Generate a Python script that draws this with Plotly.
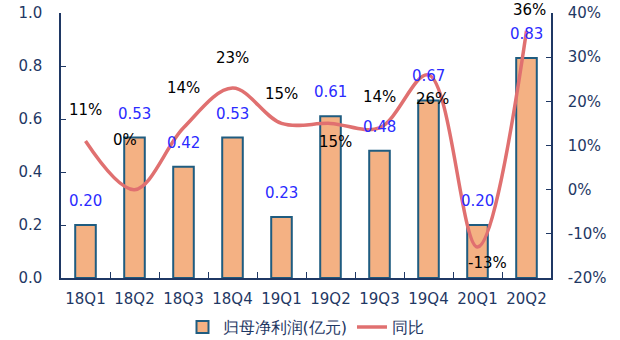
import plotly.graph_objects as go

categories = ["18Q1", "18Q2", "18Q3", "18Q4", "19Q1", "19Q2", "19Q3", "19Q4", "20Q1", "20Q2"]
profit = [0.20, 0.53, 0.42, 0.53, 0.23, 0.61, 0.48, 0.67, 0.20, 0.83]
yoy = [0.11, 0.00, 0.14, 0.23, 0.15, 0.15, 0.14, 0.26, -0.13, 0.36]
profit_labels = ["0.20", "0.53", "0.42", "0.53", "0.23", "0.61", "0.48", "0.67", "0.20", "0.83"]
yoy_labels = ["11%", "0%", "14%", "23%", "15%", "15%", "14%", "26%", "-13%", "36%"]
left_ticks = [0.0, 0.2, 0.4, 0.6, 0.8, 1.0]
left_tick_text = ["0.0", "0.2", "0.4", "0.6", "0.8", "1.0"]
right_ticks = [-0.2, -0.1, 0.0, 0.1, 0.2, 0.3, 0.4]
right_tick_text = ["-20%", "-10%", "0%", "10%", "20%", "30%", "40%"]

# label offsets in pixels (style only)
yoy_dx = [0, -10, 0, 0, 0, 5, 0, 4, 10, 3]
yoy_dy = [31, 50, 40, 30, 29, -19, 31, -24, -16, 21]

navy = "#1F3864"
font_family = "DejaVu Sans"

fig = go.Figure()
fig.add_trace(go.Bar(
    x=categories, y=profit, name="归母净利润(亿元)",
    marker=dict(color="#F4B183", line=dict(color="#1F5C80", width=2)),
    width=0.42, yaxis="y",
))
fig.add_trace(go.Scatter(
    x=categories, y=yoy, name="同比", mode="lines",
    line=dict(color="#E07070", width=3.5, shape="spline", smoothing=1.0),
    yaxis="y2",
))

annotations = []
for c, v, t in zip(categories, profit, profit_labels):
    annotations.append(dict(x=c, y=v, xref="x", yref="y", text=t, showarrow=False,
                            yshift=24, font=dict(color="#2B2BFF", size=15, family=font_family)))
for c, v, t, dx, dy in zip(categories, yoy, yoy_labels, yoy_dx, yoy_dy):
    annotations.append(dict(x=c, y=v, xref="x", yref="y2", text=t, showarrow=False,
                            xshift=dx, yshift=dy, font=dict(color="#000000", size=15, family=font_family)))

fig.update_layout(
    width=620, height=340,
    margin=dict(l=61, r=69, t=13, b=62, autoexpand=False),
    plot_bgcolor="white", paper_bgcolor="white",
    font=dict(family=font_family, size=15, color=navy),
    xaxis=dict(
        showline=True, linecolor=navy, linewidth=1.5,
        ticks="inside", tickson="boundaries", ticklen=6, tickcolor=navy,
        showgrid=False, tickfont=dict(size=15, color=navy), tickangle=0,
        ticklabelstandoff=6, automargin=False,
    ),
    yaxis=dict(
        range=[0, 1.0], tickvals=left_ticks, ticktext=left_tick_text,
        showline=True, linecolor=navy, linewidth=1.5,
        ticks="inside", ticklen=5, tickcolor=navy,
        showgrid=False, zeroline=False, tickfont=dict(size=15, color=navy),
        ticklabelstandoff=14, automargin=False,
    ),
    yaxis2=dict(
        range=[-0.2, 0.4], tickvals=right_ticks, ticktext=right_tick_text,
        overlaying="y", side="right",
        showline=True, linecolor=navy, linewidth=1.5,
        ticks="inside", ticklen=5, tickcolor=navy,
        showgrid=False, zeroline=False, tickfont=dict(size=15, color=navy),
        ticklabelstandoff=12, automargin=False,
    ),
    legend=dict(orientation="h", x=0.5, xanchor="center", y=-0.185, yanchor="middle",
                font=dict(size=16, color=navy), bgcolor="rgba(0,0,0,0)"),
    annotations=annotations,
    showlegend=True,
)

fig.write_html("out.html")
